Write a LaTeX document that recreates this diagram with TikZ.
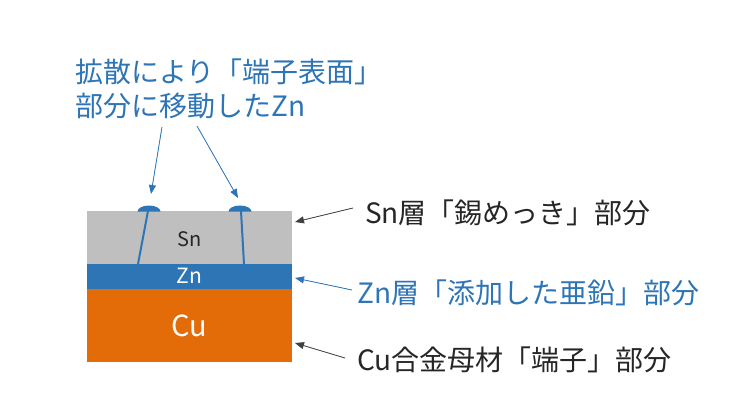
\documentclass[tikz,border=0pt]{standalone}
\usepackage{fontspec}
\setmainfont{Noto Sans CJK JP}
\usetikzlibrary{arrows.meta}
\definecolor{snfill}{HTML}{BFBFBF}
\definecolor{znblue}{HTML}{2E75B6}
\definecolor{cuorange}{HTML}{E36C09}
\definecolor{darktxt}{HTML}{262626}
\definecolor{arrgray}{HTML}{404040}
\tikzset{
  layer/.style={draw=none, inner sep=0pt, outer sep=0pt},
  lbl/.style={anchor=west, inner sep=0pt, font=\fontsize{28}{32}\selectfont},
  ttl/.style={anchor=west, inner sep=0pt, text=znblue, font=\fontsize{28}{32}\selectfont},
  ptr/.style={-{Triangle[length=9pt,width=7pt]}, line width=0.8pt},
  znline/.style={draw=znblue, line width=2pt},
}
\begin{document}
\begin{tikzpicture}[x=1pt,y=-1pt]
\useasboundingbox (0,0) rectangle (750,420);
\fill[white] (0,0) rectangle (750,420);
% layers
\node[layer, fill=snfill, minimum width=205pt, minimum height=53pt] (sn) at (189.5,237.5) {};
\node[layer, fill=znblue, minimum width=205pt, minimum height=25pt] (zn) at (189.5,276.5) {};
\node[layer, fill=cuorange, minimum width=205pt, minimum height=73pt] (cu) at (189.5,325.5) {};
\node[text=darktxt, font=\fontsize{20}{24}\selectfont] (snt) at (189.5,239) {Sn};
\node[text=white, font=\fontsize{21}{24}\selectfont] (znt) at (189.5,276) {Zn};
\node[text=white, font=\fontsize{29}{32}\selectfont] (cut) at (189.5,326) {Cu};
% diffusion paths
\coordinate (b1) at (138,264);
\coordinate (t1) at (148,211);
\coordinate (b2) at (244,264);
\coordinate (t2) at (241,211);
\draw[znline] (b1) -- (t1);
\draw[znline] (b2) -- (t2);
\fill[znblue] (137.5,211.5) arc[start angle=180, end angle=360, x radius=11.5, y radius=6] -- cycle;
\fill[znblue] (228.5,211.5) arc[start angle=180, end angle=360, x radius=11.5, y radius=6] -- cycle;
% title
\node[ttl] (title1) at (75,72) {拡散により「端子表面」};
\node[ttl] (title2) at (75,106) {部分に移動したZn};
\coordinate (a1s) at (162,127);
\coordinate (a1e) at (151,194);
\coordinate (a2s) at (197,126);
\coordinate (a2e) at (238,198);
\draw[ptr, draw=znblue, fill=znblue] (a1s) -- (a1e);
\draw[ptr, draw=znblue, fill=znblue] (a2s) -- (a2e);
% labels
\node[lbl, text=darktxt] (snl) at (365,213) {Sn層「錫めっき」部分};
\node[lbl, text=znblue] (znl) at (357,293) {Zn層「添加した亜鉛」部分};
\node[lbl, text=darktxt] (cul) at (357,360) {Cu合金母材「端子」部分};
\coordinate (snp) at (295,222);
\coordinate (znp) at (295,278);
\coordinate (cup) at (295,343);
\draw[ptr, draw=arrgray, fill=arrgray] (353,208) -- (snp);
\draw[ptr, draw=znblue, fill=znblue] (352,290) -- (znp);
\draw[ptr, draw=arrgray, fill=arrgray] (345,358) -- (cup);
\end{tikzpicture}
\end{document}
